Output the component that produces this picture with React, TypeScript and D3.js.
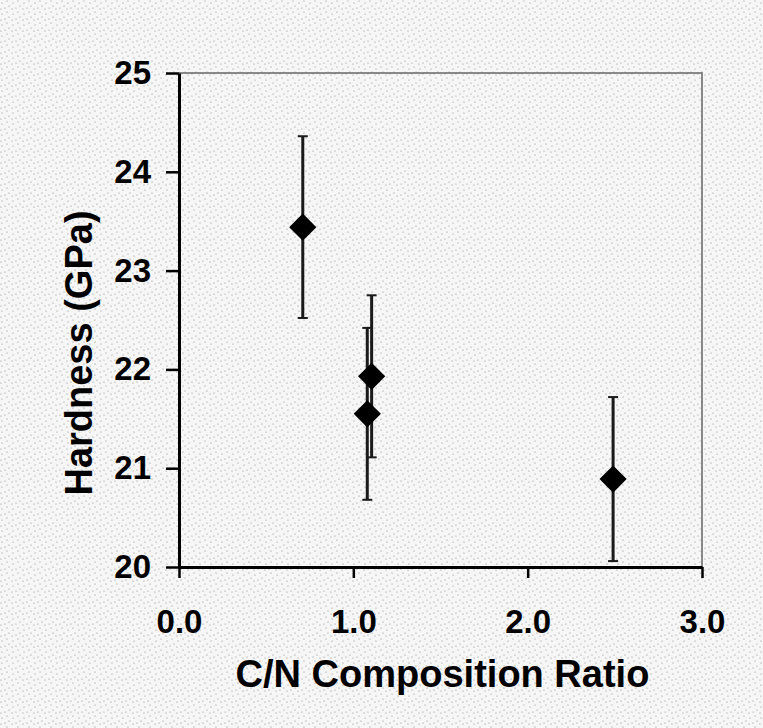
import * as d3 from "d3";
import { useEffect, useRef } from "react";

// C/N ratio vs hardness
const ratios = [0.71, 1.08, 1.105, 2.49];
const hardness = [23.44, 21.55, 21.93, 20.89];
const errors = [0.92, 0.87, 0.82, 0.83];

const xTicks = [0, 1, 2, 3];
const yTicks = [20, 21, 22, 23, 24, 25];

const xTitle = "C/N Composition Ratio";
const yTitle = "Hardness (GPa)";

export default function App() {
  const ref = useRef<SVGSVGElement>(null);

  useEffect(() => {
    const svg = d3.select(ref.current);
    svg.selectAll("*").remove();
    const width = 763;
    const height = 728;
    const left = 179, right = 702, top = 73, bottom = 567;
    const font = "'Liberation Sans', Arial, sans-serif";

    // halftone-ish paper background
    const defs = svg.append("defs");
    const pat = defs.append("pattern")
      .attr("id", "paper")
      .attr("width", 11)
      .attr("height", 11)
      .attr("patternUnits", "userSpaceOnUse");
    pat.append("rect").attr("width", 11).attr("height", 11).attr("fill", "#f6f6f6");
    [[2, 3], [7, 1], [5, 8], [9, 6], [1, 9]].forEach(([cx, cy]) => {
      pat.append("circle").attr("cx", cx).attr("cy", cy).attr("r", 0.6).attr("fill", "#8a8a8a");
    });
    svg.append("rect").attr("width", width).attr("height", height).attr("fill", "url(#paper)");

    const x = d3.scaleLinear().domain([0, 3]).range([left, right]);
    const y = d3.scaleLinear().domain([20, 25]).range([bottom, top]);

    // thin frame top and right
    svg.append("path")
      .attr("d", `M${x(0)},${y(25)}H${x(3)}V${y(20)}`)
      .attr("fill", "none")
      .attr("stroke", "#666")
      .attr("stroke-width", 1.5);

    const xAxis = svg.append("g")
      .attr("transform", `translate(0,${bottom})`)
      .call(d3.axisBottom(x).tickValues(xTicks).tickFormat(d3.format(".1f")).tickSize(11).tickSizeOuter(0).tickPadding(32));
    const yAxis = svg.append("g")
      .attr("transform", `translate(${left},0)`)
      .call(d3.axisLeft(y).tickValues(yTicks).tickFormat(d3.format("d")).tickSize(13).tickSizeOuter(0).tickPadding(15));

    [xAxis, yAxis].forEach(g => {
      g.select(".domain").attr("stroke", "#000").attr("stroke-width", 3);
      g.selectAll(".tick line").attr("stroke", "#000").attr("stroke-width", 2.5);
      g.selectAll(".tick text")
        .attr("fill", "#000")
        .style("font-family", font)
        .style("font-weight", "700")
        .style("font-size", "33px");
    });

    // error bars
    const bars = svg.append("g");
    ratios.forEach((r, i) => {
      const cx = x(r);
      const y0 = y(hardness[i] - errors[i]);
      const y1 = y(hardness[i] + errors[i]);
      bars.append("line")
        .attr("x1", cx).attr("x2", cx).attr("y1", y0).attr("y2", y1)
        .attr("stroke", "#1a1a1a").attr("stroke-width", 3);
      [y0, y1].forEach(yy => {
        bars.append("line")
          .attr("x1", cx - 5).attr("x2", cx + 5).attr("y1", yy).attr("y2", yy)
          .attr("stroke", "#1a1a1a").attr("stroke-width", 2);
      });
    });

    // diamonds
    const diamond = d3.symbol(d3.symbolSquare, 370);
    svg.append("g")
      .selectAll("path")
      .data(ratios)
      .join("path")
      .attr("d", diamond)
      .attr("transform", (d, i) => `translate(${x(d)},${y(hardness[i])}) rotate(45)`)
      .attr("fill", "#000");

    svg.append("text")
      .attr("x", (left + right) / 2 + 2)
      .attr("y", 687)
      .attr("text-anchor", "middle")
      .style("font-family", font)
      .style("font-weight", "700")
      .style("font-size", "38px")
      .text(xTitle);

    svg.append("text")
      .attr("transform", `translate(92,${353}) rotate(-90)`)
      .attr("text-anchor", "middle")
      .style("font-family", font)
      .style("font-weight", "700")
      .style("font-size", "38px")
      .text(yTitle);
  }, []);

  return (
    <svg
      ref={ref}
      width={763}
      height={728}
      style={{ position: "absolute", left: 0, top: 0, display: "block" }}
    />
  );
}
